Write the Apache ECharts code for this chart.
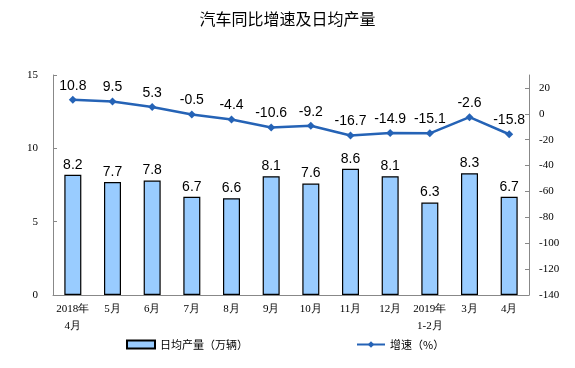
<!DOCTYPE html>
<html><head><meta charset="utf-8">
<script src="https://cdn.jsdelivr.net/npm/echarts@6/dist/echarts.min.js"></script>
<style>html,body{margin:0;padding:0;background:#fff}#c{width:575px;height:368px}</style>
</head><body><div id="c"></div>
<script>
const categories = ['2018年\n4月','5月','6月','7月','8月','9月','10月','11月','12月','2019年\n1-2月','3月','4月'];
const output = [8.2, 7.7, 7.8, 6.7, 6.6, 8.1, 7.6, 8.6, 8.1, 6.3, 8.3, 6.7];
const growth = [10.8, 9.5, 5.3, -0.5, -4.4, -10.6, -9.2, -16.7, -14.9, -15.1, -2.6, -15.8];
const leftTicks = [0, 5, 10, 15];
const rightTicks = [-140, -120, -100, -80, -60, -40, -20, 0, 20];

const chart = echarts.init(document.getElementById('c'));
const axisFont = {fontFamily: 'Liberation Serif', fontSize: 11, color: '#000'};
chart.setOption({
  animation: false,
  title: {text: '汽车同比增速及日均产量', left: 'center', top: 6,
    textStyle: {fontFamily: 'Noto Sans CJK SC', fontSize: 16, fontWeight: 'normal', color: '#000'}},
  legend: {left: 121, top: 334, itemGap: 108, itemWidth: 28, itemHeight: 8,
    textStyle: {fontFamily: 'Noto Sans CJK SC', fontSize: 11, color: '#000'},
    data: [{name: '日均产量（万辆）', icon: 'rect'}, {name: '增速（%）'}]},
  grid: {left: 53, right: 46, top: 75, bottom: 73},
  xAxis: {type: 'category', data: categories,
    axisLine: {lineStyle: {color: '#888'}},
    axisTick: {inside: true, length: 3, lineStyle: {color: '#888'}},
    axisLabel: Object.assign({interval: 0, margin: 6, lineHeight: 17}, axisFont)},
  yAxis: [
    {type: 'value', min: 0, max: 15, interval: 5, splitLine: {show: false},
      axisLine: {show: true, lineStyle: {color: '#888'}},
      axisTick: {show: true, inside: true, length: 4, lineStyle: {color: '#888'}},
      axisLabel: Object.assign({margin: 15,
        formatter: v => leftTicks.includes(v) ? String(v) : ''}, axisFont)},
    {type: 'value', min: -140, max: 30, interval: 20, splitLine: {show: false},
      axisLine: {show: true, lineStyle: {color: '#888'}},
      axisTick: {show: true, inside: true, length: 4, lineStyle: {color: '#888'}},
      axisLabel: Object.assign({margin: 10, showMaxLabel: false,
        formatter: v => rightTicks.includes(v) ? String(v) : ''}, axisFont)}
  ],
  series: [
    {name: '日均产量（万辆）', type: 'bar', data: output, barWidth: 17, yAxisIndex: 0,
      itemStyle: {color: '#99CCFF', borderColor: '#000', borderWidth: 1.2},
      label: {show: true, position: 'top', distance: 3, fontFamily: 'Liberation Sans', fontSize: 14, color: '#000'}},
    {name: '增速（%）', type: 'line', data: growth, yAxisIndex: 1,
      symbol: 'diamond', symbolSize: 8,
      lineStyle: {color: '#2563B6', width: 2.5}, itemStyle: {color: '#2563B6'},
      label: {show: true, position: 'top', distance: 3, fontFamily: 'Liberation Sans', fontSize: 14, color: '#000'}}
  ]
});
</script></body></html>
